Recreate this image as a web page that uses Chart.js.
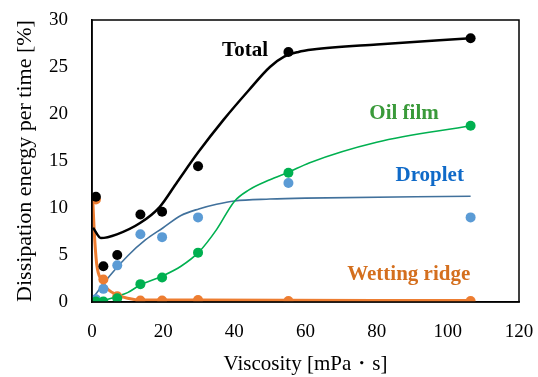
<!DOCTYPE html>
<html>
<head>
<meta charset="utf-8">
<script src="https://cdn.jsdelivr.net/npm/chart.js@4/dist/chart.umd.min.js"></script>
<style>
html,body{margin:0;padding:0;background:#fff;}
#wrap{width:538px;height:377px;}
</style>
</head>
<body>
<div id="wrap"><canvas id="c" width="538" height="377"></canvas></div>
<script>
// Measured points
const viscosity = [1.1, 3.2, 7.1, 13.6, 19.7, 29.8, 55.2, 106.4];
const totalPts = [11.2, 3.8, 5.0, 9.3, 9.6, 14.45, 26.6, 28.05];
const dropletPts = [0.3, 1.4, 3.9, 7.2, 6.9, 9.0, 12.66, 9.0];
const oilFilmPts = [0.05, 0.05, 0.4, 1.9, 2.6, 5.25, 13.75, 18.75];
const ridgePts = [10.9, 2.4, 0.6, 0.15, 0.15, 0.2, 0.1, 0.1];

// Fitted curves
const totalCurveX = [0.3, 2.5, 7, 13.5, 19, 24, 30, 37, 44, 50, 54, 58, 62, 80, 106.4];
const totalCurveY = [7.9, 6.8, 7.2, 8.4, 10.1, 12.8, 16.0, 19.4, 22.5, 25.0, 26.1, 26.6, 26.85, 27.4, 28.05];
const dropletCurveX = [0, 5, 10, 15, 20, 25, 30, 35, 40, 50, 60, 106.4];
const dropletCurveY = [0.3, 2.8, 4.9, 6.6, 7.9, 9.2, 9.9, 10.4, 10.75, 10.95, 11.05, 11.25];
const oilCurveX = [0.5, 3, 7, 10, 13.5, 20, 25, 30, 35, 40, 44, 50, 55.2, 61, 80, 106.4];
const oilCurveY = [0, 0.15, 0.6, 1.0, 1.8, 2.8, 3.8, 5.3, 7.7, 10.7, 11.9, 13.0, 13.8, 14.8, 17.0, 18.75];
const ridgeCurveX = [0.2, 0.6, 1.3, 2.7, 4.6, 7.4, 10, 14, 30, 106.4];
const ridgeCurveY = [11.0, 7.7, 4.1, 2.3, 1.3, 0.7, 0.4, 0.2, 0.2, 0.15];

const xTicks = [0, 20, 40, 60, 80, 100, 120];
const yTicks = [0, 5, 10, 15, 20, 25, 30];

const C_BLACK = '#000000', C_BLUE_PT = '#5B9BD5', C_BLUE_LN = '#41719C', C_GREEN = '#00B050', C_ORANGE = '#ED7D31';

const pairs = (xs, ys) => xs.map((x, i) => ({x: x, y: ys[i]}));

function curve(label, xs, ys, color, width, order) {
  return {type: 'line', label, data: pairs(xs, ys), borderColor: color, borderWidth: width,
    pointRadius: 0, fill: false, cubicInterpolationMode: 'monotone', order};
}
function pts(label, ys, color, order) {
  return {type: 'scatter', label, data: pairs(viscosity, ys), backgroundColor: color,
    borderColor: color, pointRadius: 5, pointBorderWidth: 0, showLine: false, order};
}

const labelsPlugin = {
  id: 'labels',
  afterDatasetsDraw(chart) {
    const {ctx, scales: {x, y}, chartArea: a} = chart;
    ctx.save();
    ctx.strokeStyle = '#000'; ctx.lineWidth = 1.5;
    ctx.strokeRect(a.left, a.top, a.right - a.left, a.bottom - a.top);
    ctx.font = 'bold 21px "Liberation Serif"';
    ctx.textAlign = 'center'; ctx.textBaseline = 'middle';
    const items = [
      ['Total', 43, 26.7, '#000000'],
      ['Oil film', 87.7, 20.0, '#3A9A3A'],
      ['Droplet', 94.9, 13.4, '#0F6AC8'],
      ['Wetting ridge', 89, 2.9, '#D46F1E']
    ];
    for (const [t, vx, vy, col] of items) {
      ctx.fillStyle = col;
      ctx.fillText(t, x.getPixelForValue(vx), y.getPixelForValue(vy));
    }
    ctx.restore();
  }
};

new Chart(document.getElementById('c'), {
  data: {
    datasets: [
      pts('Total', totalPts, C_BLACK, 1),
      pts('Oil film', oilFilmPts, C_GREEN, 2),
      pts('Wetting ridge', ridgePts, C_ORANGE, 3),
      pts('Droplet', dropletPts, C_BLUE_PT, 4),
      curve('Total fit', totalCurveX, totalCurveY, C_BLACK, 2.5, 5),
      curve('Ridge fit', ridgeCurveX, ridgeCurveY, C_ORANGE, 3, 6),
      curve('Oil fit', oilCurveX, oilCurveY, C_GREEN, 1.6, 7),
      curve('Droplet fit', dropletCurveX, dropletCurveY, C_BLUE_LN, 1.6, 8)
    ]
  },
  options: {
    responsive: false,
    animation: false,
    layout: {padding: {left: 0, right: 19, top: 20, bottom: 0}},
    plugins: {legend: {display: false}, tooltip: {enabled: false}},
    scales: {
      x: {
        type: 'linear', min: 0, max: 120,
        afterBuildTicks: s => { s.ticks = xTicks.map(v => ({value: v})); },
        afterFit: s => { s.height = 75; s.paddingLeft = 0; s.paddingRight = 0; },
        grid: {display: false, drawTicks: false},
        border: {display: true, color: '#000', width: 1.5},
        ticks: {color: '#000', padding: 19, font: {family: 'Liberation Serif', size: 19}},
        title: {display: true, text: 'Viscosity [mPa・s]', color: '#000', padding: {top: -3, bottom: 0},
          font: {family: 'Liberation Serif', size: 21}}
      },
      y: {
        type: 'linear', min: 0, max: 30,
        afterBuildTicks: s => { s.ticks = yTicks.map(v => ({value: v})); },
        afterFit: s => { s.width = 92; s.paddingTop = 0; s.paddingBottom = 0; },
        grid: {display: false, drawTicks: false},
        border: {display: true, color: '#000', width: 1.5},
        ticks: {color: '#000', padding: 24, font: {family: 'Liberation Serif', size: 19}},
        title: {display: true, text: 'Dissipation energy per time [%]', color: '#000', padding: {top: 12, bottom: 0},
          font: {family: 'Liberation Serif', size: 22}}
      }
    }
  },
  plugins: [labelsPlugin]
});
</script>
</body>
</html>
